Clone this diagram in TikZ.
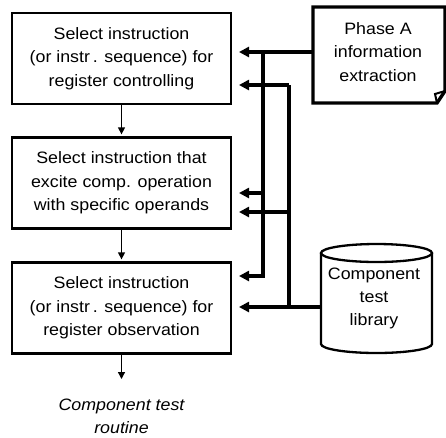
\documentclass[tikz,border=0pt]{standalone}
\usepackage{fontspec}
\setmainfont{Liberation Sans}[FakeStretch=1.08]
\usetikzlibrary{shapes.geometric, arrows.meta, positioning, calc}

\tikzset{
  stepbox/.style={draw, line width=2.3pt, minimum width=219pt, minimum height=91pt,
    align=center, font=\fontsize{16.5}{23.5}\selectfont, inner sep=0pt},
  feed/.style={line width=3.2pt, -{Triangle[length=10pt, width=10pt]}},
  flow/.style={line width=1.3pt, shorten >=2pt, -{Triangle[length=7pt, width=7pt]}},
  bus/.style={line width=3.2pt}
}

\begin{document}
\begin{tikzpicture}[x=1pt, y=-1pt]
\useasboundingbox (0,0) rectangle (446,437);
% --- main flow ---
\node[stepbox] (ctrl) at (121.5,58.5) {Select instruction\\(or instr\,. sequence) for\\register controlling};
\node[stepbox] (excite) at (121.5,183) {Select instruction that\\excite comp. operation\\with specific operands};
\node[stepbox] (obs) at (121.5,308) {Select instruction\\(or instr\,. sequence) for\\register observation};
\node[font=\fontsize{16.5}{23}\selectfont\itshape, align=center] (routine) at (121.5,416) {Component test\\routine};
\coordinate (out) at (121.5,381);
\draw[flow] (ctrl.south) -- (excite.north);
\draw[flow] (excite.south) -- (obs.north);
\draw[flow] (obs.south) -- (out);

% --- phase A box with curled corner ---
\draw[line width=3.4pt, line join=miter] (313,7) -- (445,7) -- (445,91) -- (437,103) -- (313,103) -- cycle;
\draw[line width=2pt] (437,103) -- (435,94) -- (445,91);
\node[align=center, font=\fontsize{16.5}{23.5}\selectfont] (phase) at (378,52) {Phase A\\information\\extraction};
\coordinate (phaseW) at (313,52);

% --- library cylinder ---
\draw[line width=2.3pt] (321,253) -- (321,344) arc[start angle=180, end angle=0, x radius=55.5, y radius=9]
  -- (432,253);
\draw[line width=2.3pt] (376.5,253) ellipse[x radius=55.5, y radius=9];
\node[align=center, font=\fontsize{16.5}{23}\selectfont] (lib) at (374,298) {Component\\test\\library};
\coordinate (libW) at (321,307);

% --- bus lines ---
\coordinate (busA) at (263,52);
\coordinate (busB) at (289,85);
\draw[bus] (phaseW) -- (busA) -- (263,277.5);
\draw[bus] (libW) -- (289,307) -- (busB);
\coordinate (t1) at (239,52);
\coordinate (t2) at (239,85);
\coordinate (t3) at (239,193);
\coordinate (t4) at (239,212);
\coordinate (t5) at (239,276);
\coordinate (t6) at (239,307);
\draw[feed] (busA) -- (t1);
\draw[feed] (busB) -- (t2);
\draw[feed] (263,193) -- (t3);
\draw[feed] (289,212) -- (t4);
\draw[feed] (263,276) -- (t5);
\draw[feed] (289,307) -- (t6);
\end{tikzpicture}
\end{document}
